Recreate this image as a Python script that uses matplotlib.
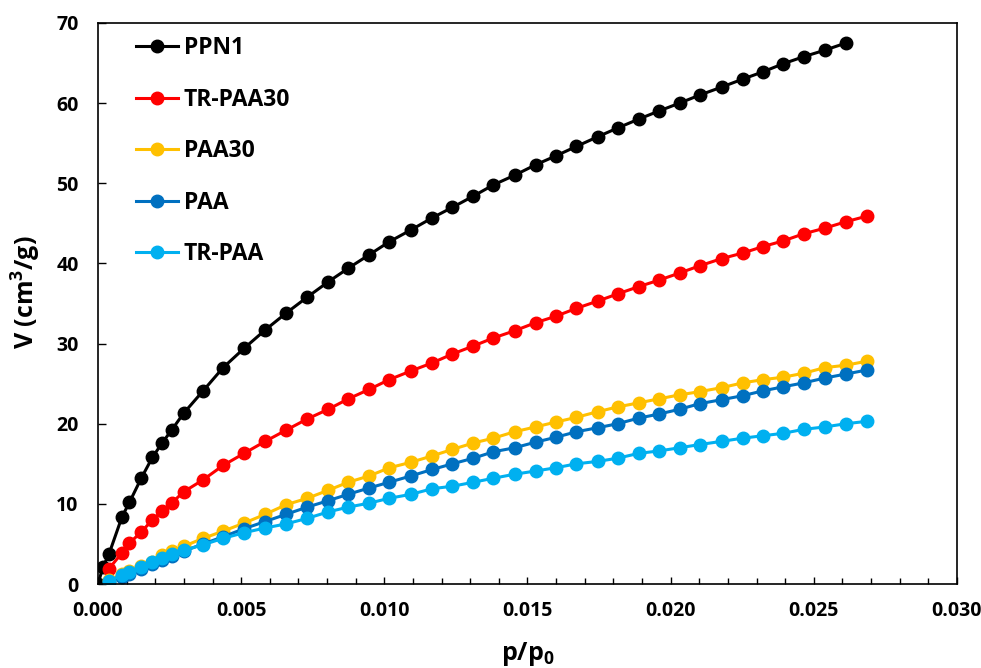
import matplotlib.pyplot as plt
from matplotlib.ticker import MultipleLocator, FormatStrFormatter

plt.rcParams['font.family'] = ['Open Sans', 'DejaVu Sans']
plt.rcParams['font.weight'] = 'bold'
plt.rcParams['mathtext.fontset'] = 'custom'
plt.rcParams['mathtext.bf'] = 'Open Sans:bold'
plt.rcParams['mathtext.rm'] = 'Open Sans:bold'

# Relative pressure points shared by the series
p_grid = [0.00038, 0.00084, 0.00110, 0.00151, 0.00190, 0.00224, 0.00257, 0.00299,
          0.00367, 0.00437, 0.00510, 0.00584, 0.00657, 0.00731, 0.00804, 0.00874,
          0.00948, 0.01017, 0.01094, 0.01168, 0.01238, 0.01311, 0.01381, 0.01455,
          0.01528, 0.01598, 0.01671, 0.01745, 0.01815, 0.01888, 0.01958, 0.02031,
          0.02101, 0.02178, 0.02252, 0.02322, 0.02392, 0.02465, 0.02538, 0.02612,
          0.02685]

p_ppn1 = [0.0, 0.00017] + p_grid[:-1]
v_ppn1 = [0.0, 2.1, 3.7, 8.4, 10.2, 13.2, 15.8, 17.6, 19.2, 21.3, 24.1, 27.0, 29.4,
          31.7, 33.8, 35.8, 37.7, 39.4, 41.1, 42.7, 44.2, 45.7, 47.0, 48.4, 49.8,
          51.0, 52.3, 53.4, 54.6, 55.8, 56.9, 58.0, 59.0, 60.0, 61.0, 62.0, 63.0,
          63.9, 64.9, 65.8, 66.6, 67.5]

v_trpaa30 = [1.9, 3.9, 5.1, 6.5, 8.0, 9.1, 10.1, 11.5, 13.0, 14.8, 16.3, 17.8, 19.2,
             20.6, 21.8, 23.1, 24.3, 25.5, 26.6, 27.6, 28.7, 29.7, 30.7, 31.6, 32.6,
             33.4, 34.4, 35.3, 36.2, 37.1, 37.9, 38.8, 39.7, 40.6, 41.3, 42.1, 42.8,
             43.7, 44.4, 45.2, 45.9]

v_paa30 = [0.5, 1.2, 1.6, 2.2, 2.8, 3.6, 4.1, 4.7, 5.7, 6.6, 7.6, 8.7, 9.9, 10.7,
           11.7, 12.7, 13.5, 14.5, 15.2, 16.0, 16.8, 17.6, 18.2, 19.0, 19.6, 20.2,
           20.8, 21.5, 22.1, 22.6, 23.1, 23.6, 24.0, 24.5, 25.1, 25.5, 25.8, 26.3,
           27.0, 27.3, 27.8]

v_paa = [0.3, 0.9, 1.3, 1.9, 2.5, 3.0, 3.5, 4.1, 5.0, 5.9, 6.9, 7.8, 8.7, 9.6, 10.4,
         11.2, 12.0, 12.7, 13.5, 14.3, 15.0, 15.7, 16.5, 17.0, 17.7, 18.3, 19.0, 19.5,
         20.0, 20.7, 21.2, 21.8, 22.5, 23.0, 23.5, 24.1, 24.6, 25.1, 25.7, 26.2, 26.7]

v_trpaa = [0.4, 1.1, 1.5, 2.1, 2.7, 3.2, 3.7, 4.2, 4.9, 5.7, 6.4, 7.0, 7.5, 8.2, 9.0,
           9.6, 10.1, 10.7, 11.2, 11.9, 12.2, 12.7, 13.2, 13.7, 14.1, 14.5, 15.0, 15.3,
           15.7, 16.3, 16.6, 17.0, 17.4, 17.8, 18.2, 18.5, 18.8, 19.3, 19.6, 20.0, 20.3]

series = [
    ('PPN1', p_ppn1, v_ppn1, '#000000'),
    ('TR-PAA30', p_grid, v_trpaa30, '#FF0000'),
    ('PAA30', p_grid, v_paa30, '#FFC000'),
    ('PAA', p_grid, v_paa, '#0070C0'),
    ('TR-PAA', p_grid, v_trpaa, '#00B0F0'),
]

fig = plt.figure(figsize=(9.81, 6.68), dpi=100)
ax = fig.add_axes([0.0999, 0.1257, 0.8756, 0.8399])

for name, px, vy, col in series:
    ax.plot(px, vy, '-o', color=col, linewidth=2.2, markersize=9, label=name)

ax.set_xlim(0, 0.030)
ax.set_ylim(0, 70)
ax.xaxis.set_major_locator(MultipleLocator(0.005))
ax.xaxis.set_minor_locator(MultipleLocator(0.001))
ax.xaxis.set_major_formatter(FormatStrFormatter('%.3f'))
ax.yaxis.set_major_locator(MultipleLocator(10))

ax.tick_params(axis='x', which='major', direction='in', length=5, width=1,
               labelsize=14, pad=12)
ax.tick_params(axis='y', which='major', direction='in', length=6, width=1,
               labelsize=14, pad=14)
ax.tick_params(axis='x', which='minor', direction='in', length=4, width=1)
for lbl in ax.get_xticklabels() + ax.get_yticklabels():
    lbl.set_fontweight('bold')

for s in ax.spines.values():
    s.set_linewidth(1.2)

ax.set_xlabel('p/p$_\\mathbf{0}$', fontsize=18, fontweight='bold', labelpad=14)
ax.set_ylabel('V (cm$^\\mathbf{3}$/g)', fontsize=18, fontweight='bold')
ax.yaxis.set_label_coords(-0.064, 0.52)

ax.legend(loc='upper left', frameon=False, fontsize=16.5, handlelength=1.85,
          labelspacing=1.2, handletextpad=0.25, markerscale=1.0,
          borderaxespad=0.3, bbox_to_anchor=(0.025, 1.005))

fig.savefig('out.png', dpi=100)
